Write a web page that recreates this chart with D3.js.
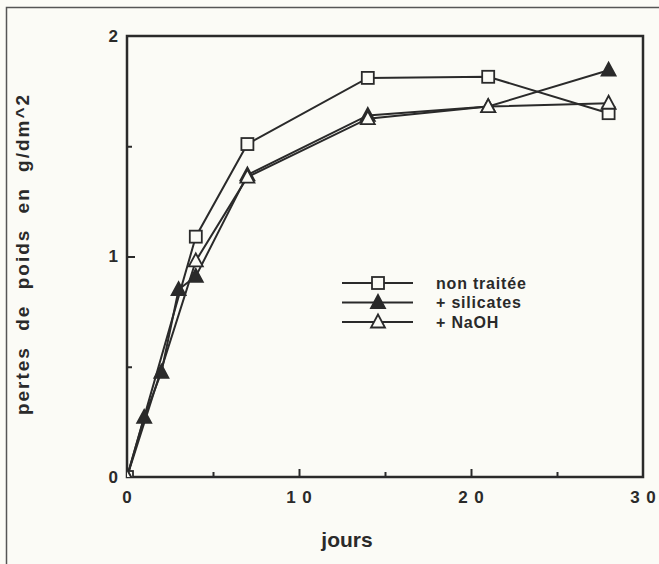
<!DOCTYPE html>
<html>
<head>
<meta charset="utf-8">
<script src="https://cdn.jsdelivr.net/npm/d3@7"></script>
<style>
  body { margin: 0; background: #fbfbf6; }
  svg { display: block; }
  .axis text { font-family: "Liberation Sans", Arial, sans-serif; font-weight: bold; font-size: 17px; fill: #2a2a2a; }
  .axis .domain { display: none; }
  .axis line { stroke: #2a2a2a; stroke-width: 2px; }
</style>
</head>
<body>
<div id="chart"></div>
<script>
// data
const seriesNames = ['non traitée', '+ silicates', '+ NaOH']
const joursNonTraitee = [0, 4, 7, 14, 21, 28]
const pertesNonTraitee = [0, 1.09, 1.51, 1.81, 1.815, 1.65]
const joursSilicates = [0, 1, 2, 3, 4, 7, 14, 21, 28]
const pertesSilicates = [0, 0.27, 0.475, 0.85, 0.91, 1.37, 1.64, 1.68, 1.845]
const joursNaOH = [0, 4, 7, 14, 21, 28]
const pertesNaOH = [0, 0.98, 1.36, 1.625, 1.68, 1.695]

const xTicks = [0, 10, 20, 30]
const xTickLabels = ['0', '1 0', '2 0', '3 0']
const xMinorTicks = [5, 15, 25]
const yTicks = [0, 1, 2]
const yTickLabels = ['0', '1', '2']
const yMinorTicks = [0.5, 1.5]

const margin = { top: 36, right: 16, bottom: 87, left: 127 }
const W = 659
const H = 564
const width = W - margin.left - margin.right
const height = H - margin.top - margin.bottom
const ink = '#2a2a2a'
const paper = '#fbfbf6'

const root = d3.select('#chart')
  .append('svg')
  .attr('width', W)
  .attr('height', H)

root.append('rect').attr('width', W).attr('height', H).attr('fill', paper)

// scan frame (left and top edges only visible)
root.append('path')
  .attr('d', 'M6.5,564 L6.5,7.5 L659,7.5')
  .attr('fill', 'none')
  .attr('stroke', '#555')
  .attr('stroke-width', 1.5)

const svg = root.append('g')
  .attr('transform', 'translate(' + margin.left + ',' + margin.top + ')')

const x = d3.scaleLinear().domain([0, 30]).range([0, width])
const y = d3.scaleLinear().domain([0, 2]).range([height, 0])

svg.append('defs').append('clipPath').attr('id', 'plotclip')
  .append('rect').attr('width', width).attr('height', height)

/* axes */
const xAxis = d3.axisBottom(x)
  .tickValues(xTicks)
  .tickFormat((d, i) => xTickLabels[i])
  .tickSizeInner(-8)
  .tickSizeOuter(0)
  .tickPadding(14)

svg.append('g')
  .attr('class', 'axis x-axis')
  .attr('transform', 'translate(0,' + height + ')')
  .call(xAxis)

svg.append('g')
  .attr('class', 'axis x-minor')
  .attr('transform', 'translate(0,' + height + ')')
  .call(d3.axisBottom(x).tickValues(xMinorTicks).tickFormat('').tickSizeInner(-5).tickSizeOuter(0))

const yAxis = d3.axisLeft(y)
  .tickValues(yTicks)
  .tickFormat((d, i) => yTickLabels[i])
  .tickSizeInner(-8)
  .tickSizeOuter(0)
  .tickPadding(9)

svg.append('g')
  .attr('class', 'axis y-axis')
  .call(yAxis)

svg.append('g')
  .attr('class', 'axis y-minor')
  .call(d3.axisLeft(y).tickValues(yMinorTicks).tickFormat('').tickSizeInner(-5).tickSizeOuter(0))

// the end ticks sit on the frame, hide their lines
svg.selectAll('.y-axis .tick line').filter(d => d === 0 || d === 2).remove()
svg.selectAll('.x-axis .tick line').filter(d => d === 0 || d === 30).remove()
svg.selectAll('.x-axis .tick text').attr('dy', '0.71em').style('letter-spacing', '1px')

// plot frame
svg.append('rect')
  .attr('width', width)
  .attr('height', height)
  .attr('fill', 'none')
  .attr('stroke', ink)
  .attr('stroke-width', 2.5)

/* axis titles */
root.append('text')
  .attr('x', 347)
  .attr('y', 547)
  .attr('text-anchor', 'middle')
  .style('font-family', '"Liberation Sans Narrow", "Liberation Sans", Arial, sans-serif')
  .style('font-weight', 'bold')
  .style('font-size', '21px')
  .style('fill', ink)
  .text('jours')

root.append('text')
  .attr('transform', 'translate(29,254) rotate(-90)')
  .attr('text-anchor', 'middle')
  .style('font-family', '"Liberation Sans", Arial, sans-serif')
  .style('font-weight', 'bold')
  .style('font-size', '19px')
  .style('letter-spacing', '2px')
  .style('word-spacing', '8px')
  .style('fill', ink)
  .text('pertes de poids en g/dm^2')

/* lines and markers */
const series = [
  { name: seriesNames[0], xs: joursNonTraitee, ys: pertesNonTraitee, marker: 'square' },
  { name: seriesNames[2], xs: joursNaOH, ys: pertesNaOH, marker: 'open' },
  { name: seriesNames[1], xs: joursSilicates, ys: pertesSilicates, marker: 'filled' }
]

const line = d3.line().x(d => x(d[0])).y(d => y(d[1]))
const tri = 'M0,-7.5 L7,5.5 L-7,5.5 Z'

function drawMarker(g, kind) {
  if (kind === 'square') {
    g.append('rect').attr('x', -6).attr('y', -6).attr('width', 12).attr('height', 12)
      .attr('fill', paper).attr('stroke', ink).attr('stroke-width', 1.8)
  } else {
    g.append('path').attr('d', tri)
      .attr('fill', kind === 'filled' ? ink : paper)
      .attr('stroke', ink).attr('stroke-width', 1.8)
  }
}

const plot = svg.append('g').attr('clip-path', 'url(#plotclip)')

// lines first, markers on top; filled triangles under the open ones
series.forEach(s => {
  const pts = s.xs.map((v, i) => [v, s.ys[i]])
  plot.append('path')
    .datum(pts)
    .attr('d', line)
    .attr('fill', 'none')
    .attr('stroke', ink)
    .attr('stroke-width', 2)
})

const markerOrder = [series[0], series[2], series[1]]
markerOrder.forEach(s => {
  s.xs.forEach((v, i) => {
    const g = plot.append('g').attr('transform', 'translate(' + x(v) + ',' + y(s.ys[i]) + ')')
    drawMarker(g, s.marker)
  })
})

/* legend */
const legend = root.append('g').attr('transform', 'translate(342,283)')
const legendItems = [
  { label: seriesNames[0], marker: 'square' },
  { label: seriesNames[1], marker: 'filled' },
  { label: seriesNames[2], marker: 'open' }
]
legendItems.forEach((d, i) => {
  const row = legend.append('g').attr('transform', 'translate(0,' + i * 19.5 + ')')
  row.append('line').attr('x1', 0).attr('x2', 71).attr('y1', 0).attr('y2', 0)
    .attr('stroke', ink).attr('stroke-width', 2)
  const m = row.append('g').attr('transform', 'translate(36,0)')
  drawMarker(m, d.marker)
  row.append('text')
    .attr('x', 94)
    .attr('y', 0)
    .attr('dy', '0.35em')
    .style('font-family', '"Liberation Sans", Arial, sans-serif')
    .style('font-weight', 'bold')
    .style('font-size', '16px')
    .style('letter-spacing', '0.8px')
    .style('fill', ink)
    .text(d.label)
})
</script>
</body>
</html>
